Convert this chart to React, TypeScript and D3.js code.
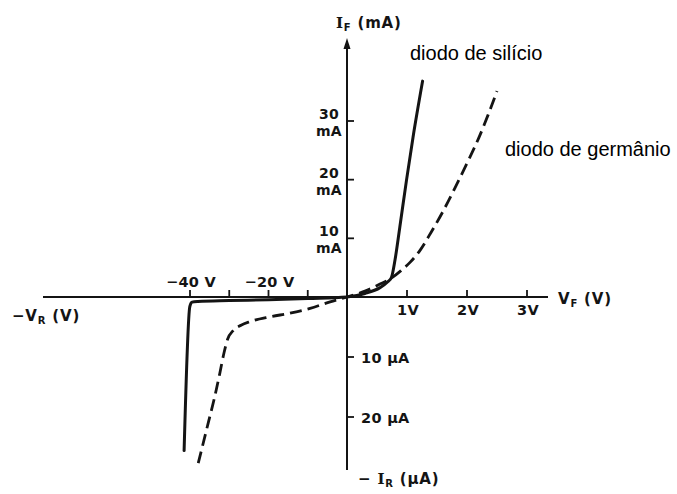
import React from "react";
import * as d3 from "d3";

// Silicon diode: forward branch (V, mA) and reverse branch (V, µA)
const siForwardVolts = [0, 0.3, 0.55, 0.68, 0.74, 0.8, 0.88, 0.99, 1.1, 1.26];
const siForwardMilliamps = [0, 0.6, 1.6, 2.6, 3.3, 6.3, 11.9, 19.8, 27.2, 36.8];
const siReverseVolts = [-41.5, -40.05, -39.5, -38, -30, -20, -10];
const siReverseMicroamps = [25.6, 1.6, 0.85, 0.75, 0.6, 0.45, 0.25];

// Germanium diode: forward branch (V, mA) and reverse branch (V, µA)
const geForwardVolts = [0, 0.3, 0.55, 0.75, 0.9, 1.05, 1.22, 1.4, 1.6, 1.8, 2.0, 2.2, 2.35, 2.5];
const geForwardMilliamps = [0, 1.0, 2.2, 3.3, 4.5, 5.9, 8.0, 11.0, 14.6, 18.6, 22.8, 27.2, 31.0, 35.1];
const geReverseVolts = [-37.9, -35.4, -33.7, -32.4, -31.3, -30.4, -29.0, -27.0, -24.7, -19.6, -14.5, -9.4, -4.3];
const geReverseMicroamps = [27.7, 21.1, 16.6, 12.7, 9.2, 7.0, 5.6, 4.7, 4.1, 3.3, 2.7, 1.9, 0.8];

// Axis ticks
const forwardVoltTicks = [1, 2, 3];
const forwardVoltLabels = ["1V", "2V", "3V"];
const reverseVoltTicks = [-40, -30, -20, -10];
const reverseVoltLabels = ["−40 V", "", "−20 V", ""];
const forwardCurrentTicks = [10, 20, 30];
const forwardCurrentLabels = ["10", "20", "30"];
const reverseCurrentTicks = [10, 20];
const reverseCurrentLabels = ["10 µA", "20 µA"];

const W = 677;
const H = 494;
const ink = "#141414";
const labelFont = "'DejaVu Sans', sans-serif";
const serifFont = "'DejaVu Serif', serif";
const captionFont = "'Liberation Sans', Arial, sans-serif";

const xFwd = d3.scaleLinear().domain([0, 3]).range([347, 527]);
const xRev = d3.scaleLinear().domain([-40, 0]).range([190, 347]);
const yFwd = d3.scaleLinear().domain([0, 30]).range([297, 121]);
const yRev = d3.scaleLinear().domain([0, 20]).range([297, 417]);

const x0 = xFwd(0);
const y0 = yFwd(0);

type Pt = [number, number];

function branchPoints(
  revV: number[],
  revI: number[],
  fwdV: number[],
  fwdI: number[]
): Pt[] {
  const rev: Pt[] = revV.map((v, i) => [xRev(v), yRev(revI[i])]);
  const fwd: Pt[] = fwdV.map((v, i) => [xFwd(v), yFwd(fwdI[i])]);
  return [...rev, ...fwd];
}

const line = d3
  .line<Pt>()
  .x((d) => d[0])
  .y((d) => d[1])
  .curve(d3.curveMonotoneX);

const siPath = line(branchPoints(siReverseVolts, siReverseMicroamps, siForwardVolts, siForwardMilliamps)) || "";
const gePath = line(branchPoints(geReverseVolts, geReverseMicroamps, geForwardVolts, geForwardMilliamps)) || "";

const tickText = {
  fontFamily: labelFont,
  fontWeight: "bold" as const,
  fontSize: 14.5,
  fill: ink,
  letterSpacing: 0.3,
};

const stackedText = { ...tickText, fontSize: 14 };

const titleText = {
  fontFamily: labelFont,
  fontWeight: "bold" as const,
  fontSize: 15,
  fill: ink,
  letterSpacing: 0.8,
};

export default function App() {
  const axisTop = 38;
  const axisBottom = 470;
  const axisLeft = 43;
  const axisRight = 548;

  return (
    <svg
      width={W}
      height={H}
      viewBox={`0 0 ${W} ${H}`}
      style={{ position: "absolute", left: 0, top: 0, background: "#fff" }}
    >
      <rect x={0} y={0} width={W} height={H} fill="#fff" />

      {/* axes */}
      <line x1={axisLeft} y1={y0} x2={axisRight} y2={y0} stroke={ink} strokeWidth={2} />
      <line x1={x0} y1={axisTop + 8} x2={x0} y2={axisBottom} stroke={ink} strokeWidth={2} />
      <path
        d={`M${x0},${axisTop} L${x0 - 3.5},${axisTop + 11} L${x0 + 3.5},${axisTop + 11} Z`}
        fill={ink}
      />

      {/* voltage ticks */}
      {forwardVoltTicks.map((v, i) => (
        <g key={`fv${v}`}>
          <line x1={xFwd(v)} y1={y0 - 7} x2={xFwd(v)} y2={y0} stroke={ink} strokeWidth={1.8} />
          <text x={xFwd(v) + 1} y={y0 + 18} textAnchor="middle" {...tickText}>
            {forwardVoltLabels[i]}
          </text>
        </g>
      ))}
      {reverseVoltTicks.map((v, i) => (
        <g key={`rv${v}`}>
          <line x1={xRev(v)} y1={y0 - 7} x2={xRev(v)} y2={y0} stroke={ink} strokeWidth={1.8} />
          {reverseVoltLabels[i] && (
            <text x={xRev(v) + 1} y={y0 - 10} textAnchor="middle" {...tickText}>
              {reverseVoltLabels[i]}
            </text>
          )}
        </g>
      ))}

      {/* current ticks: value stacked over its unit */}
      {forwardCurrentTicks.map((c, i) => (
        <g key={`fc${c}`}>
          <line x1={x0} y1={yFwd(c)} x2={x0 + 7} y2={yFwd(c)} stroke={ink} strokeWidth={1.8} />
          <text x={329} y={yFwd(c) - 2} textAnchor="middle" {...stackedText}>
            {forwardCurrentLabels[i]}
          </text>
          <text x={329} y={yFwd(c) + 15} textAnchor="middle" {...stackedText}>
            mA
          </text>
        </g>
      ))}
      {reverseCurrentTicks.map((c, i) => (
        <g key={`rc${c}`}>
          <line x1={x0} y1={yRev(c)} x2={x0 + 7} y2={yRev(c)} stroke={ink} strokeWidth={1.8} />
          <text x={x0 + 14} y={yRev(c) + 6} {...tickText}>
            {reverseCurrentLabels[i]}
          </text>
        </g>
      ))}

      {/* axis titles */}
      <text x={336} y={28} {...titleText}>
        <tspan fontFamily={serifFont}>I</tspan>
        <tspan fontSize={10} dy={3}>F</tspan>
        <tspan dy={-3}> (mA)</tspan>
      </text>
      <text x={558} y={304} {...titleText}>
        <tspan>V</tspan>
        <tspan fontSize={10} dy={3}>F</tspan>
        <tspan dy={-3}> (V)</tspan>
      </text>
      <text x={12} y={321} {...titleText}>
        <tspan>−V</tspan>
        <tspan fontSize={10} dy={3}>R</tspan>
        <tspan dy={-3}> (V)</tspan>
      </text>
      <text x={358} y={484} {...titleText}>
        <tspan>− </tspan>
        <tspan fontFamily={serifFont}>I</tspan>
        <tspan fontSize={10} dy={3}>R</tspan>
        <tspan dy={-3}> (µA)</tspan>
      </text>

      {/* characteristic curves */}
      <path
        d={gePath}
        fill="none"
        stroke={ink}
        strokeWidth={2.8}
        strokeDasharray="12 6"
        strokeLinejoin="round"
      />
      <path d={siPath} fill="none" stroke={ink} strokeWidth={3} strokeLinejoin="round" strokeLinecap="round" />

      {/* curve captions */}
      <text x={410} y={60} fontFamily={captionFont} fontSize={20} fill="#000">
        diodo de silício
      </text>
      <text x={505} y={156} fontFamily={captionFont} fontSize={20} fill="#000">
        diodo de germânio
      </text>
    </svg>
  );
}
